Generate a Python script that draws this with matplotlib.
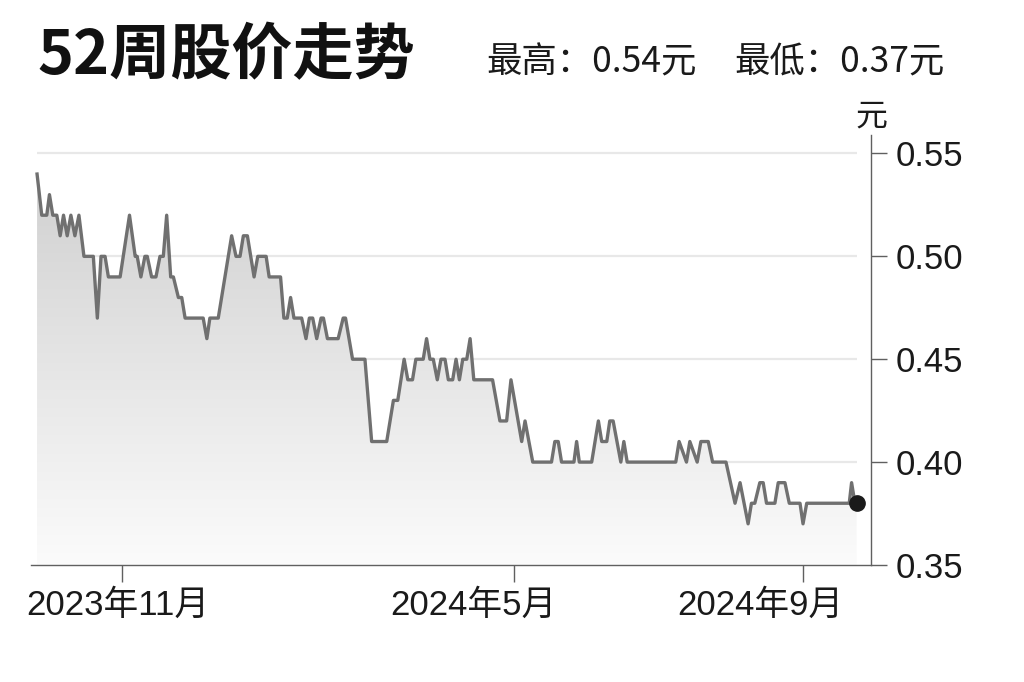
import numpy as np
import matplotlib.pyplot as plt
import matplotlib.transforms as mtransforms

plt.rcParams['font.family'] = ['Liberation Sans', 'Noto Sans CJK SC']

# trading-day index and closing price (yuan) at each turn of the line
day = [0, 1.4, 2.9, 3.7, 4.7, 5.9, 6.9, 7.9, 9.0, 10.1, 11.3, 12.5, 14.0, 16.8,
       18.0, 19.1, 20.3, 21.3, 24.8, 27.6, 29.3, 29.9, 31.0, 32.2, 32.9, 34.2,
       35.5, 36.7, 37.7, 38.7, 39.9, 40.7, 42.2, 43.2, 44.2, 49.6, 50.7, 51.6,
       54.1, 58.1, 59.4, 60.6, 61.6, 62.8, 64.8, 65.9, 68.4, 69.3, 72.7, 73.7,
       74.7, 75.7, 76.7, 79.0, 80.3, 81.3, 82.3, 83.5, 84.8, 85.5, 86.7, 89.9,
       91.4, 92.1, 94.2, 97.9, 99.9, 104.4, 106.4, 107.7, 109.6, 110.7, 112.1,
       113.1, 115.3, 116.3, 117.3, 118.3, 119.5, 120.6, 121.8, 122.8, 124.1,
       125.1, 126.1, 127.1, 128.3, 129.3, 130.4, 136.0, 138.2, 140.2, 141.5,
       144.7, 145.7, 148.0, 153.6, 154.6, 155.6, 156.6, 160.3, 161.1, 161.9,
       165.6, 167.6, 168.6, 170.1, 171.0, 172.0, 174.3, 175.2, 176.2, 190.7,
       191.7, 193.9, 194.9, 197.1, 198.2, 200.4, 201.7, 205.7, 208.4, 209.9,
       212.3, 213.3, 214.3, 215.8, 216.8, 217.8, 220.3, 221.3, 223.3, 224.6,
       227.8, 228.7, 229.8, 242.5, 243.2, 244.2, 244.7]
price = [0.54, 0.52, 0.52, 0.53, 0.52, 0.52, 0.51, 0.52, 0.51, 0.52, 0.51, 0.52,
         0.50, 0.50, 0.47, 0.50, 0.50, 0.49, 0.49, 0.52, 0.50, 0.50, 0.49, 0.50,
         0.50, 0.49, 0.49, 0.50, 0.50, 0.52, 0.49, 0.49, 0.48, 0.48, 0.47, 0.47,
         0.46, 0.47, 0.47, 0.51, 0.50, 0.50, 0.51, 0.51, 0.49, 0.50, 0.50, 0.49,
         0.49, 0.47, 0.47, 0.48, 0.47, 0.47, 0.46, 0.47, 0.47, 0.46, 0.47, 0.47,
         0.46, 0.46, 0.47, 0.47, 0.45, 0.45, 0.41, 0.41, 0.43, 0.43, 0.45, 0.44,
         0.44, 0.45, 0.45, 0.46, 0.45, 0.45, 0.44, 0.45, 0.45, 0.44, 0.44, 0.45,
         0.44, 0.45, 0.45, 0.46, 0.44, 0.44, 0.42, 0.42, 0.44, 0.41, 0.42, 0.40,
         0.40, 0.41, 0.41, 0.40, 0.40, 0.41, 0.40, 0.40, 0.42, 0.41, 0.41, 0.42,
         0.42, 0.40, 0.41, 0.40, 0.40, 0.41, 0.40, 0.41, 0.40, 0.41, 0.41, 0.40,
         0.40, 0.38, 0.39, 0.37, 0.38, 0.38, 0.39, 0.39, 0.38, 0.38, 0.39, 0.39,
         0.38, 0.38, 0.37, 0.38, 0.38, 0.39, 0.38, 0.38]

x_ticks = [25.4, 142.4, 228.7]
x_labels = ['2023年11月', '2024年5月', '2024年9月']
y_ticks = [0.35, 0.40, 0.45, 0.50, 0.55]
y_labels = ['0.35', '0.40', '0.45', '0.50', '0.55']
grid_levels = [0.40, 0.45, 0.50, 0.55]
high = 0.54
low = 0.37

# the month labels sit a little left of their ticks (pixels)
label_shift = [-4, -41, -43]

fig = plt.figure(figsize=(10.24, 6.82), dpi=100)
ax = fig.add_axes([0.0303, 0.1716, 0.8203, 0.6305])
ax.set_xlim(-1.8, 249)
ax.set_ylim(0.35, 0.559)

ax.hlines(grid_levels, day[0], day[-1], color='#e8e8e8', lw=1.6, zorder=0)

# grey gradient under the line
poly = ax.fill(day + [day[-1], day[0]], price + [0.35, 0.35],
               facecolor='none', edgecolor='none')[0]
shade = np.linspace(0.985, 0.80, 256).reshape(-1, 1)
img = np.dstack([shade, shade, shade])
im = ax.imshow(img, extent=[day[0], day[-1], 0.35, 0.559], origin='lower',
               aspect='auto', zorder=1)
im.set_clip_path(poly)

ax.plot(day, price, color='#707070', lw=2.4, solid_joinstyle='round', zorder=3)
ax.plot(day[-1], price[-1], 'o', color='#1a1a1a', ms=11, zorder=4)

for s in ['top', 'left']:
    ax.spines[s].set_visible(False)
for s in ['right', 'bottom']:
    ax.spines[s].set_color('#606060')
    ax.spines[s].set_linewidth(1.0)

ax.yaxis.tick_right()
ax.set_yticks(y_ticks)
ax.set_yticklabels(y_labels)
ax.set_xticks(x_ticks)
ax.set_xticklabels(x_labels)
ax.tick_params(axis='y', length=11.5, width=1, color='#606060', pad=6,
               labelsize=25, labelcolor='#1a1a1a')
ax.tick_params(axis='x', length=12, width=1, color='#606060', pad=5,
               labelsize=25, labelcolor='#1a1a1a')
for lab, dx in zip(ax.get_xticklabels(), label_shift):
    lab.set_transform(lab.get_transform() +
                      mtransforms.ScaledTranslation(dx / 100, 0, fig.dpi_scale_trans))

fig.text(37 / 1024, 1 - 56 / 682, '52周股价走势', fontsize=44, fontweight=900,
         va='center', family=['Noto Sans CJK SC'], color='#111111')
fig.text(486 / 1024, 1 - 62 / 682, f'最高：{high:.2f}元', fontsize=25.5,
         va='center', family=['Noto Sans CJK SC'], color='#1a1a1a')
fig.text(734 / 1024, 1 - 62 / 682, f'最低：{low:.2f}元', fontsize=25.5,
         va='center', family=['Noto Sans CJK SC'], color='#1a1a1a')
fig.text(871 / 1024, 1 - 117 / 682, '元', fontsize=23, ha='center',
         va='center', family=['Noto Sans CJK SC'], color='#1a1a1a')

fig.savefig('out.png', dpi=100, facecolor='white')
